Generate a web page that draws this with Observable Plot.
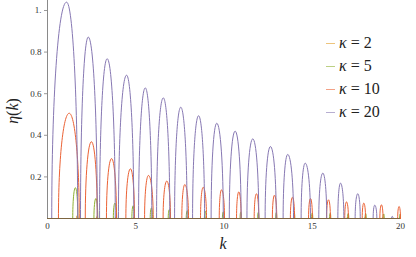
<!DOCTYPE html>
<html><head><meta charset="utf-8">
<script src="https://cdn.jsdelivr.net/npm/d3@7"></script>
<script src="https://cdn.jsdelivr.net/npm/@observablehq/plot@0.6"></script>
<style>
body{margin:0;background:#fff;}
#wrap{position:relative;width:416px;height:257px;font-family:"Liberation Serif","DejaVu Serif","Times New Roman",serif;color:#222;}
#wrap svg{position:absolute;left:0;top:0;overflow:visible;}
.lbl{position:absolute;font-size:16px;white-space:nowrap;line-height:1;}
.leg{position:absolute;left:326px;height:20px;line-height:20px;font-size:16px;white-space:nowrap;}
.sw{position:absolute;left:0;top:10px;width:9px;height:1px;opacity:0.6;}
.lt{position:absolute;left:13px;top:0;}
i{font-style:italic;}
</style></head><body><div id="wrap"></div>
<script>
// series labels and colours
const kappas = [2, 5, 10, 20];
const colors = ["#E19C24", "#8FB032", "#EB6235", "#8778B3"];
const xTicks = [0, 5, 10, 15, 20];
const yTicks = [0.2, 0.4, 0.6, 0.8, 1.0];

// arches: left edge, peak position, right edge, peak height
const k2L = [1.64,2.77,3.84,4.87,5.90,6.91,7.92,8.93,9.94,10.94,11.94,12.95,13.95,14.96,15.96,16.96,17.96,18.96,19.96];
const k2P = [1.68,2.80,3.87,4.89,5.92,6.93,7.94,8.95,9.96,10.96,11.96,12.97,13.97,14.98,15.98,16.98,17.98,18.98,19.98];
const k2R = [1.72,2.83,3.89,4.91,5.94,6.95,7.96,8.97,9.98,10.98,11.98,12.99,13.99,15.00,16.00,17.00,18.00,19.00,20.00];
const k2H = [0.014,0.009,0.007,0.006,0.005,0.005,0.004,0.004,0.004,0.004,0.004,0.004,0.004,0.004,0.004,0.004,0.004,0.004,0.004];

const k5L = [1.43,2.63,3.73,4.78,5.82,6.84,7.86,8.89,9.91,10.91,11.90,12.92,13.94,14.96,15.98,17.00,17.99,19.01,19.95];
const k5P = [1.58,2.74,3.82,4.85,5.89,6.90,7.92,8.94,9.96,10.95,11.94,12.96,13.98,15.00,16.02,17.04,18.03,19.05,19.98];
const k5R = [1.72,2.85,3.92,4.92,5.95,6.96,7.97,8.98,10.00,10.99,11.98,12.99,14.01,15.03,16.05,17.07,18.06,19.08,20.00];
const k5H = [0.148,0.096,0.074,0.061,0.051,0.043,0.038,0.035,0.032,0.030,0.029,0.028,0.027,0.026,0.025,0.024,0.023,0.022,0.021];

const k10L = [0.62,2.14,3.34,4.44,5.50,6.55,7.61,8.67,9.73,10.71,11.71,12.74,13.76,14.79,15.81,16.84,17.83,18.83,19.84];
const k10P = [1.23,2.49,3.63,4.70,5.72,6.76,7.78,8.82,9.86,10.84,11.84,12.86,13.88,14.90,15.92,16.94,17.92,18.92,19.92];
const k10R = [1.80,2.82,3.91,4.93,5.99,6.97,7.99,9.01,10.03,10.97,11.97,12.99,14.00,15.01,16.03,17.05,18.02,19.01,20.00];
const k10H = [0.506,0.369,0.288,0.239,0.207,0.180,0.163,0.150,0.138,0.128,0.119,0.112,0.102,0.096,0.090,0.080,0.074,0.066,0.058];

const k20L = [0.24,1.87,2.95,4.02,5.16,6.18,7.20,8.22,9.27,10.30,11.30,12.33,13.35,14.37,15.37,16.45,17.43,18.45,19.49];
const k20P = [1.08,2.31,3.38,4.48,5.54,6.56,7.55,8.56,9.59,10.63,11.63,12.63,13.61,14.60,15.60,16.60,17.58,18.54,19.53];
const k20R = [1.71,2.82,3.84,4.89,5.91,6.93,7.91,8.90,9.96,10.97,11.97,12.96,13.94,14.90,15.82,16.79,17.72,18.66,19.58];
const k20H = [1.040,0.872,0.768,0.689,0.628,0.580,0.535,0.494,0.458,0.420,0.383,0.346,0.308,0.266,0.218,0.170,0.119,0.064,0.010];

const series = [[k2L,k2P,k2R,k2H],[k5L,k5P,k5R,k5H],[k10L,k10P,k10R,k10H],[k20L,k20P,k20R,k20H]];

// rows: each arch = start (0), peak, end (0)
function rowsFor(si) {
  const [L,P,R,H] = series[si];
  const out = [];
  L.forEach((l,i) => {
    out.push({a:i,k:l,eta:0},{a:i,k:P[i],eta:H[i]},{a:i,k:R[i],eta:0});
  });
  return out;
}

// curve: vertical tangent at the baseline, horizontal tangent at the peak
function archCurve(context) {
  let pts;
  return {
    areaStart(){}, areaEnd(){},
    lineStart(){ pts = []; },
    point(x,y){ pts.push([+x,+y]); },
    lineEnd(){
      if (!pts.length) return;
      const c = 0.5523;
      context.moveTo(pts[0][0], pts[0][1]);
      for (let i=1;i<pts.length;i++){
        const [x0,y0]=pts[i-1],[x1,y1]=pts[i];
        if (y1 < y0) context.bezierCurveTo(x0, y0 + c*(y1-y0), x1 - c*(x1-x0), y1, x1, y1);
        else if (y1 > y0) context.bezierCurveTo(x0 + c*(x1-x0), y0, x1, y1 - c*(y1-y0), x1, y1);
        else context.lineTo(x1,y1);
      }
    }
  };
}

const plot = Plot.plot({
  width: 416, height: 257,
  marginLeft: 47, marginRight: 16, marginTop: 0, marginBottom: 39,
  style: {fontFamily: '"Liberation Serif", "DejaVu Serif", serif', fontSize: "9px", color: "#333", background: "transparent", overflow: "visible"},
  x: {domain: [0, 20]},
  y: {domain: [0, 1.048]},
  marks: [
    Plot.axisY({ticks: yTicks, tickFormat: d => d === 1 ? "1." : d.toFixed(1), tickSize: 3, tickPadding: 3, label: null, stroke: "#999", fontFamily: '"Liberation Serif", "DejaVu Serif", serif'}),
    Plot.axisX({ticks: xTicks, tickSize: 0, tickPadding: 4, label: null, fontFamily: '"Liberation Serif", "DejaVu Serif", serif'}),
    Plot.ruleX([0], {stroke: "#8a8a8a", strokeWidth: 1}),
    ...series.map((s, si) => Plot.line(rowsFor(si), {x: "k", y: "eta", z: "a", stroke: colors[si], strokeWidth: 1, curve: archCurve, clip: false})),
    Plot.ruleY([0], {stroke: "#7d6540", strokeWidth: 1})
  ]
});

const wrap = document.getElementById("wrap");
wrap.appendChild(plot);

const yl = document.createElement("div");
yl.className = "lbl";
yl.innerHTML = "<i>η</i>(<i>k</i>)";
yl.style.left = "0px"; yl.style.top = "0px";
wrap.appendChild(yl);
const r = yl.getBoundingClientRect();
yl.style.transformOrigin = "center center";
yl.style.left = (13 - r.width/2) + "px";
yl.style.top = (111 - r.height/2) + "px";
yl.style.transform = "rotate(-90deg)";

const xl = document.createElement("div");
xl.className = "lbl";
xl.innerHTML = "<i>k</i>";
wrap.appendChild(xl);
const r2 = xl.getBoundingClientRect();
xl.style.left = (223 - r2.width/2) + "px";
xl.style.top = (244 - r2.height/2) + "px";

const legY = [43, 66, 89, 112];
kappas.forEach((kv, i) => {
  const row = document.createElement("div");
  row.className = "leg";
  row.style.top = (legY[i] - 10) + "px";
  row.innerHTML = `<div class="sw" style="background:${colors[i]}"></div><div class="lt"><i>κ</i> = ${kv}</div>`;
  wrap.appendChild(row);
});
</script>
</body></html>
